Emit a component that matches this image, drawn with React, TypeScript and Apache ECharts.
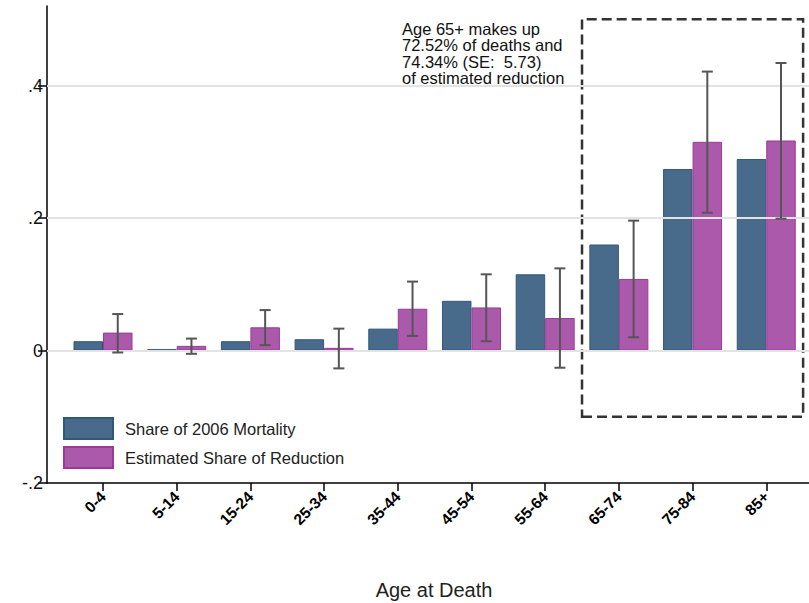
import React, { useEffect, useRef } from "react";
import * as echarts from "echarts";

const categories = ["0-4", "5-14", "15-24", "25-34", "35-44", "45-54", "55-64", "65-74", "75-84", "85+"];
const mortalityShare = [0.014, 0.002, 0.014, 0.017, 0.033, 0.075, 0.115, 0.160, 0.274, 0.289];
const reductionShare = [0.027, 0.007, 0.035, 0.004, 0.063, 0.065, 0.049, 0.108, 0.315, 0.317];
const ciLow = [-0.003, -0.005, 0.008, -0.027, 0.022, 0.014, -0.026, 0.020, 0.208, 0.199];
const ciHigh = [0.055, 0.018, 0.061, 0.033, 0.104, 0.115, 0.124, 0.196, 0.421, 0.434];
const yTicks = [-0.2, 0, 0.2, 0.4];
const gridValues = [0.4, 0.2, 0];
const annotationLines = [
  "Age 65+ makes up",
  "72.52% of deaths and",
  "74.34% (SE:  5.73)",
  "of estimated reduction",
];
const boxX = [6.5, 9.5];
const boxY = [-0.1, 0.5];

const FONT = "'Liberation Sans', Arial, Helvetica, sans-serif";
const BAR_W = 29.5;

function fmtY(v: number): string {
  if (Math.abs(v) < 1e-9) return "0";
  const s = String(Math.round(v * 10) / 10);
  return s.replace(/^(-?)0\./, "$1.");
}

export default function App() {
  const ref = useRef<HTMLDivElement>(null);
  useEffect(() => {
    if (!ref.current) return;
    const chart = echarts.init(ref.current, null, { renderer: "svg" });
    const idx = categories.map((_, i) => i);
    const option: any = {
      animation: false,
      backgroundColor: "#ffffff",
      textStyle: { fontFamily: FONT },
      grid: { left: 47, right: 0, top: 6, bottom: 120, containLabel: false, outerBoundsMode: "none" },
      legend: {
        orient: "vertical",
        left: 58,
        top: 412,
        itemWidth: 49,
        itemHeight: 21,
        itemGap: 6,
        icon: "rect",
        textStyle: { fontSize: 16.5, color: "#222", fontFamily: FONT, padding: [0, 0, 0, 7] },
        data: ["Share of 2006 Mortality", "Estimated Share of Reduction"],
      },
      xAxis: {
        type: "value",
        min: -0.76,
        max: 9.58,
        splitLine: { show: false },
        axisLine: { show: true, onZero: false, lineStyle: { color: "#000", width: 1.5 } },
        axisTick: { show: true, customValues: idx, length: 8, lineStyle: { color: "#000", width: 1.5 } },
        axisLabel: {
          customValues: idx,
          rotate: 45,
          margin: 11,
          fontSize: 15.5,
          fontWeight: "bold",
          color: "#000",
          fontFamily: FONT,
          formatter: (v: number) => categories[Math.round(v)] ?? "",
        },
        name: "Age at Death",
        nameLocation: "middle",
        nameGap: 97,
        nameTextStyle: { fontSize: 20, color: "#222", fontFamily: FONT, padding: [0, 0, 0, 12] },
      },
      yAxis: {
        type: "value",
        min: -0.2,
        max: 0.52,
        interval: 0.2,
        splitLine: { show: false },
        axisLine: { show: true, onZero: false, lineStyle: { color: "#000", width: 1.5 } },
        axisTick: { show: true, customValues: yTicks, length: 9, lineStyle: { color: "#000", width: 1.5 } },
        axisLabel: {
          customValues: yTicks,
          fontSize: 18,
          color: "#111",
          margin: 4,
          fontFamily: FONT,
          formatter: (v: number) => fmtY(v),
        },
      },
      series: [
        {
          type: "line",
          data: [],
          z: 0,
          silent: true,
          markLine: {
            silent: true,
            symbol: "none",
            label: { show: false },
            lineStyle: { color: "#e3e3e3", width: 2, type: "solid" },
            data: gridValues.map((v) => ({ yAxis: v })),
          },
        },
        {
          name: "Share of 2006 Mortality",
          type: "bar",
          barWidth: BAR_W,
          barGap: "0%",
          z: 2,
          itemStyle: { color: "#486b8b", borderColor: "#33577a", borderWidth: 1 },
          data: mortalityShare.map((v, i) => [i, v]),
        },
        {
          name: "Estimated Share of Reduction",
          type: "bar",
          barWidth: BAR_W,
          barGap: "0%",
          z: 2,
          itemStyle: { color: "#ab5aab", borderColor: "#993a99", borderWidth: 1 },
          data: reductionShare.map((v, i) => [i, v]),
          markArea: {
            silent: true,
            itemStyle: {
              color: "rgba(0,0,0,0)",
              borderColor: "#333",
              borderWidth: 2.5,
              borderType: [10, 5],
            },
            label: { show: false },
            data: [[{ xAxis: boxX[0], yAxis: boxY[1] }, { xAxis: boxX[1], yAxis: boxY[0] }]],
          },
        },
        {
          type: "custom",
          z: 5,
          silent: true,
          data: ciLow.map((lo, i) => [i, lo, ciHigh[i]]),
          encode: { x: 0, y: [1, 2] },
          renderItem: (params: any, api: any) => {
            const i = api.value(0);
            const lo = api.coord([i, api.value(1)]);
            const hi = api.coord([i, api.value(2)]);
            const x = lo[0] + BAR_W / 2;
            const cap = 5.5;
            const style = { stroke: "#555", lineWidth: 2, fill: "none" };
            return {
              type: "group",
              children: [
                { type: "line", shape: { x1: x, y1: lo[1], x2: x, y2: hi[1] }, style },
                { type: "line", shape: { x1: x - cap, y1: lo[1], x2: x + cap, y2: lo[1] }, style },
                { type: "line", shape: { x1: x - cap, y1: hi[1], x2: x + cap, y2: hi[1] }, style },
              ],
            };
          },
        },
      ],
      graphic: [
        {
          type: "text",
          left: 402,
          top: 20,
          style: {
            text: annotationLines.join("\n"),
            font: `16.5px ${FONT}`,
            fill: "#111",
            lineHeight: 16.5,
          },
        },
      ],
    };
    chart.setOption(option);
    return () => chart.dispose();
  }, []);
  return <div ref={ref} style={{ width: 809, height: 603, position: "absolute", left: 0, top: 0 }} />;
}
